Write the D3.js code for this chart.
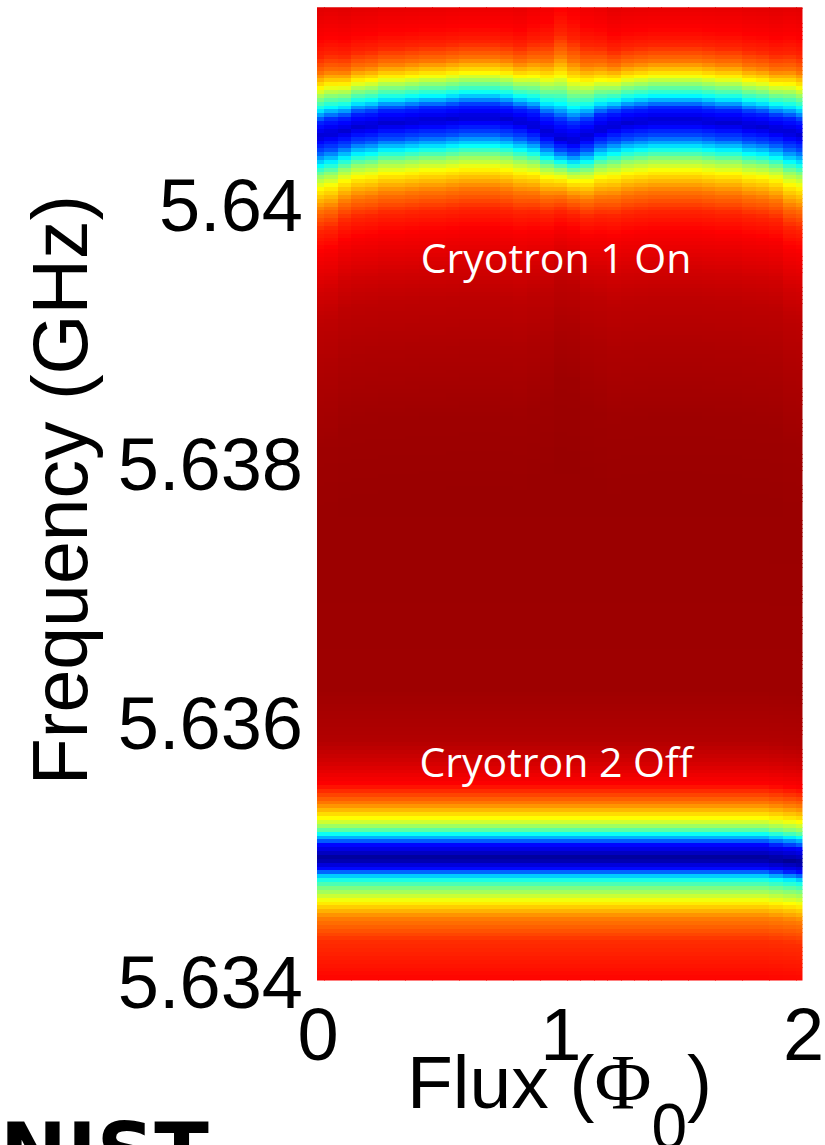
<!DOCTYPE html>
<html><head><meta charset="utf-8">
<script src="https://cdn.jsdelivr.net/npm/d3@7"></script>
<style>body{margin:0;background:#fff} svg{display:block}</style>
</head><body>
<svg id="c" width="825" height="1145"></svg>
<script>
// ---- data ----
const fluxValues = [0,0.0556,0.1111,0.1667,0.2222,0.2778,0.3333,0.3889,0.4444,0.5,0.5556,0.6111,0.6667,0.7222,0.7778,0.8333,0.8889,0.9444,1,1.0556,1.1111,1.1667,1.2222,1.2778,1.3333,1.3889,1.4444,1.5,1.5556,1.6111,1.6667,1.7222,1.7778,1.8333,1.8889,1.9444,2];
// resonance 1 (Cryotron 1 On) centre frequency per flux column, GHz
const dip1Center = [5.64053,5.64055,5.64057,5.64060,5.64061,5.64063,5.64063,5.64064,5.64065,5.64065,5.64066,5.64067,5.64067,5.64067,5.64066,5.64064,5.64061,5.64056,5.64051,5.64049,5.64053,5.64058,5.64061,5.64063,5.64064,5.64065,5.64065,5.64065,5.64065,5.64064,5.64063,5.64063,5.64061,5.64060,5.64058,5.64056,5.64054];
// width factors of resonance 1 above / below its centre per column
const dip1UpperWidth = [1.05,1.05,1,1,1,1,1,1,1,1,1,1,1,1,1,1,1.1,1.2,1.4,1.35,1.2,1.1,1,1,1,1,1,1,1,1,1,1,1,1,1,1.05,1.05];
const dip1LowerWidth = [1.05,1.05,1,1,1,1,1,1,1,1,1,1,1,1,1,1,0.95,0.9,0.8,0.8,0.9,0.95,1,1,1,1,1,1,1,1,1,1,1,1,1,1.05,1.05];
// resonance 2 (Cryotron 2 Off) centre frequency per flux column, GHz
const dip2Center = [5.63495,5.63495,5.63495,5.63495,5.63495,5.63495,5.63495,5.63495,5.63495,5.63495,5.63495,5.63495,5.63495,5.63495,5.63495,5.63495,5.63495,5.63495,5.63495,5.63495,5.63495,5.63495,5.63495,5.63495,5.63495,5.63495,5.63495,5.63495,5.63495,5.63495,5.63495,5.63495,5.63495,5.63495,5.63494,5.63493,5.63492];
// line shapes (normalised colour value vs detuning in MHz)
const dip1Offsets = [-3.0,-2.3,-1.76,-1.38,-1.16,-0.86,-0.70,-0.55,-0.39,-0.30,-0.22,-0.12,0,0.10,0.19,0.27,0.35,0.46,0.58,0.71,0.9,1.2];
const dip1Values  = [0.975,0.97,0.955,0.94,0.92,0.88,0.84,0.76,0.63,0.52,0.38,0.2,0.08,0.16,0.37,0.5,0.63,0.76,0.84,0.875,0.9,0.93];
const dip2Offsets = [-1.0,-0.64,-0.46,-0.33,-0.232,-0.155,-0.085,0,0.10,0.186,0.232,0.309,0.418,0.572,0.75,0.9,1.3,3.0];
const dip2Values  = [0.88,0.83,0.75,0.625,0.5,0.375,0.14,0.02,0.13,0.375,0.5,0.625,0.75,0.875,0.92,0.95,0.97,0.975];
const yTicks = [5.634, 5.636, 5.638, 5.64];
const xTicks = [0, 1, 2];
const freqTop = 5.64152;
const freqStepGHz = 0.00003;
const annotations = [{text:"Cryotron 1 On", f:5.63947}, {text:"Cryotron 2 Off", f:5.63557}];

// ---- drawing ----
const svg = d3.select("#c");
const x = d3.scaleLinear().domain([0, 2]).range([317.5, 803]);
const y = d3.scaleLinear().domain([5.634, 5.640]).range([980.5, 204]);
const jet = d3.scaleLinear().domain([0, 0.125, 0.375, 0.625, 0.875, 1])
  .range(["#000080", "#0000ff", "#00ffff", "#ffff00", "#ff0000", "#800000"]).clamp(true);
const shape1 = d3.scaleLinear().domain(dip1Offsets).range(dip1Values).clamp(true);
const shape2 = d3.scaleLinear().domain(dip2Offsets).range(dip2Values).clamp(true);

const plotL = 317, plotR = 802.5, plotT = y(freqTop), plotB = y(5.634);
svg.append("clipPath").attr("id", "clip").append("rect")
  .attr("x", plotL).attr("y", plotT).attr("width", plotR - plotL).attr("height", plotB - plotT);

const rows = d3.range(0, Math.ceil((freqTop - 5.634) / freqStepGHz) + 2).map(j => 5.634 + j * freqStepGHz);
const colW = x(fluxValues[1]) - x(fluxValues[0]);
const cells = [];
fluxValues.forEach((fx, k) => {
  rows.forEach(f => {
    let d1 = (f - dip1Center[k]) * 1000;
    d1 = d1 >= 0 ? d1 / dip1UpperWidth[k] : d1 / dip1LowerWidth[k];
    const d2 = (f - dip2Center[k]) * 1000;
    cells.push({fx, f, v: Math.min(shape1(d1), shape2(d2))});
  });
});
const g = svg.append("g").attr("clip-path", "url(#clip)");
g.selectAll("rect").data(cells).join("rect")
  .attr("x", d => x(d.fx) - colW / 2)
  .attr("width", colW + 0.6)
  .attr("y", d => y(d.f + freqStepGHz / 2))
  .attr("height", d => y(d.f - freqStepGHz / 2) - y(d.f + freqStepGHz / 2) + 0.6)
  .attr("fill", d => jet(d.v))
  .attr("shape-rendering", "crispEdges");

// annotations
svg.selectAll("text.ann").data(annotations).join("text").attr("class", "ann")
  .attr("x", 556).attr("y", d => y(d.f))
  .attr("text-anchor", "middle").attr("fill", "#fff")
  .style("font-family", "'Open Sans', sans-serif").style("font-size", "41px")
  .text(d => d.text);

const font = "'Liberation Sans', Arial, sans-serif";
// y axis
const ya = svg.append("g").attr("transform", `translate(${plotL},0)`)
  .call(d3.axisLeft(y).tickValues(yTicks).tickSize(0).tickPadding(14).tickFormat(d3.format(".3~f")));
ya.select(".domain").remove();
ya.selectAll("text").attr("dy", "0.36em").style("font-family", font).style("font-size", "74px").attr("fill", "#000");
// x axis
const xa = svg.append("g").attr("transform", `translate(0,${plotB})`)
  .call(d3.axisBottom(x).tickValues(xTicks).tickSize(0).tickPadding(26.5).tickFormat(d3.format("d")));
xa.select(".domain").remove();
xa.selectAll("text").style("font-family", font).style("font-size", "74px").attr("fill", "#000");

// axis titles
svg.append("text").attr("transform", "translate(87,490) rotate(-90)")
  .attr("text-anchor", "middle").style("font-family", font).style("font-size", "77px")
  .text("Frequency (GHz)");
const xt = svg.append("text").attr("x", 407).attr("y", 1108)
  .style("font-family", font).style("font-size", "75px");
xt.append("tspan").text("Flux (");
xt.append("tspan").style("font-family", "'Liberation Serif', 'Times New Roman', serif").style("font-size", "78px").text("Φ");
xt.append("tspan").attr("dy", 41).style("font-size", "64px").text("0");
xt.append("tspan").attr("dy", -41).text(")");

// logo text at the bottom edge
svg.append("text").attr("x", 0).attr("y", 1180)
  .style("font-family", "'DejaVu Sans', sans-serif").style("font-weight", "bold").style("font-size", "80px")
  .text("NIST");
</script></body></html>
